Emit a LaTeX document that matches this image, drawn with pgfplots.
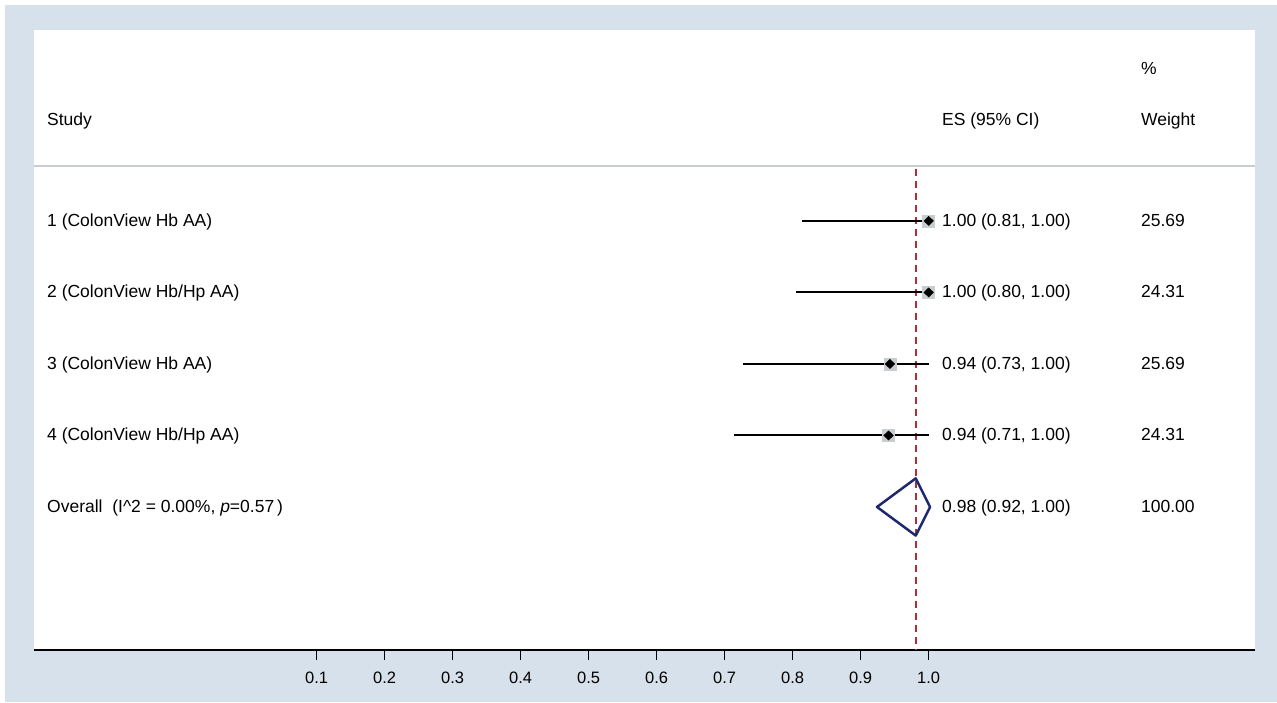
\documentclass[border=0pt]{standalone}
\usepackage{pgfplots}
\pgfplotsset{compat=1.18}
\usepackage{pgfplotstable}
\usepackage{fontspec}
\setmainfont{Liberation Sans}
\usepackage{graphicx}
\definecolor{bgblue}{RGB}{215,225,235}
\definecolor{navyd}{RGB}{30,40,110}
\definecolor{maroonl}{RGB}{175,45,60}
\definecolor{boxgray}{RGB}{200,205,208}
\definecolor{sepgray}{RGB}{200,205,210}
\tikzset{txt/.style={anchor=west, inner sep=0pt, yshift=-1pt}}
\pgfplotstableread{
es lo hi y
1.00 0.814 1.00 -1
1.00 0.805 1.00 -2
0.943 0.727 1.00 -3
0.941 0.714 1.00 -4
}\studies
\begin{document}
\fontsize{17.5}{21}\selectfont
\begin{tikzpicture}[x=1pt,y=1pt]
\path[use as bounding box] (0,0) rectangle (1277,702);
\fill[white] (0,0) rectangle (1277,702);
\fill[bgblue] (5,0) rectangle (1277,697);
\begin{axis}[at={(34pt,52pt)}, anchor=south west,
  width=1221pt, height=620pt, scale only axis,
  xmin=-0.3157, xmax=1.4799, ymin=-7, ymax=1.67,
  axis background/.style={fill=white},
  axis x line*=bottom, axis y line=none,
  x axis line style={-, line width=1.5pt, black},
  xtick={0.1,0.2,0.3,0.4,0.5,0.6,0.7,0.8,0.9,1.0},
  xticklabels={0.1,0.2,0.3,0.4,0.5,0.6,0.7,0.8,0.9,1.0},
  tick align=outside, major tick length=10pt,
  xtick style={line width=1.2pt, black},
  xticklabel style={font=\fontsize{16.5}{19}\selectfont, anchor=north, yshift=-6pt},
  clip=false,
]
% separator
\draw[sepgray, line width=2pt] (axis cs:-0.3157,-0.23) -- (axis cs:1.4799,-0.23);
% reference line
\addplot[maroonl, line width=1.8pt, dash pattern=on 7pt off 5pt] coordinates {(0.981,-0.28) (0.981,-7)};
% CI lines
\addplot[black, line width=2pt] coordinates {(0.814,-1) (1.00,-1)};
\addplot[black, line width=2pt] coordinates {(0.805,-2) (1.00,-2)};
\addplot[black, line width=2pt] coordinates {(0.727,-3) (1.00,-3)};
\addplot[black, line width=2pt] coordinates {(0.714,-4) (1.00,-4)};
% weight boxes
\addplot[only marks, mark=square*, mark size=6pt, boxgray, mark options={draw=boxgray, fill=boxgray}] table[x=es,y=y]{\studies};
% point estimates
\addplot[only marks, mark=diamond*, mark size=4.6pt, black, mark options={xscale=1.4}] table[x=es,y=y]{\studies};
% overall diamond
\addplot[navyd, line width=2.5pt, line join=round] coordinates {(0.924,-5) (0.981,-4.6) (1.002,-5) (0.981,-5.4)} -- cycle;
% header
\node[txt] at (axis cs:-0.2966,0.41) {Study};
\node[txt] at (axis cs:1.0196,0.41) {ES (95\% CI)};
\node[txt] at (axis cs:1.3122,0.41) {Weight};
\node[txt] at (axis cs:1.3122,1.14) {\%};
% rows
\node[txt] at (axis cs:-0.2966,-1) {1 (ColonView Hb AA)};
\node[txt] at (axis cs:-0.2966,-2) {2 (ColonView Hb/Hp AA)};
\node[txt] at (axis cs:-0.2966,-3) {3 (ColonView Hb AA)};
\node[txt] at (axis cs:-0.2966,-4) {4 (ColonView Hb/Hp AA)};
\node[txt] at (axis cs:-0.2966,-5) {Overall\ \ (I\^{}2 = 0.00\%, \textit{p}=0.57\,)};
\node[txt] at (axis cs:1.0196,-1) {1.00 (0.81, 1.00)};
\node[txt] at (axis cs:1.0196,-2) {1.00 (0.80, 1.00)};
\node[txt] at (axis cs:1.0196,-3) {0.94 (0.73, 1.00)};
\node[txt] at (axis cs:1.0196,-4) {0.94 (0.71, 1.00)};
\node[txt] at (axis cs:1.0196,-5) {0.98 (0.92, 1.00)};
\node[txt] at (axis cs:1.3122,-1) {\vphantom{(}25.69};
\node[txt] at (axis cs:1.3122,-2) {\vphantom{(}24.31};
\node[txt] at (axis cs:1.3122,-3) {\vphantom{(}25.69};
\node[txt] at (axis cs:1.3122,-4) {\vphantom{(}24.31};
\node[txt] at (axis cs:1.3122,-5) {\vphantom{(}100.00};
\end{axis}
\end{tikzpicture}
\end{document}
